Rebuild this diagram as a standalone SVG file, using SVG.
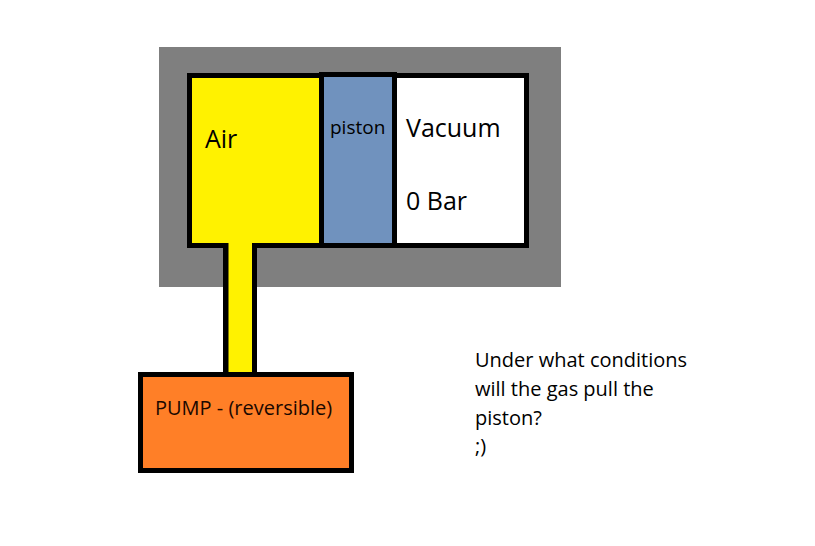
<svg xmlns="http://www.w3.org/2000/svg" width="815" height="546" viewBox="0 0 815 546">
<style>
.t{font-family:"Open Sans","Liberation Sans",sans-serif;fill:#000}
.ol{stroke:#000;stroke-width:5}
</style>
<rect width="815" height="546" fill="#fff"/>
<g id="housing">
<rect x="159" y="47" width="402" height="240" fill="#7f7f7f"/>
</g>
<g id="vacuum">
<rect x="189.5" y="75.5" width="337" height="170" fill="#fff" class="ol"/>
<text class="t" x="406" y="137" font-size="25">Vacuum</text>
<text class="t" x="406" y="210" font-size="25">0 Bar</text>
</g>
<g id="air">
<rect x="192" y="78" width="128" height="165" fill="#fff200"/>
<text class="t" x="205" y="148" font-size="25">Air</text>
</g>
<g id="piston">
<rect x="321.5" y="74.5" width="73" height="171" fill="#7092be" class="ol"/>
<text class="t" x="330" y="134" font-size="19">piston</text>
</g>
<g id="connectors">
<rect x="223" y="243" width="34" height="131" fill="#000"/>
<rect x="228.5" y="238" width="23.5" height="136" fill="#fff200"/>
</g>
<g id="pump">
<rect x="140.5" y="374.5" width="211" height="96" fill="#ff7f27" class="ol"/>
<text class="t" x="155" y="415" font-size="20" style="fill:#1a0800">PUMP - (reversible)</text>
</g>
<g id="question">
<text class="t" font-size="20"><tspan x="475" y="367">Under what conditions</tspan><tspan x="475" y="396">will the gas pull the</tspan><tspan x="475" y="425">piston?</tspan><tspan x="475" y="453">;)</tspan></text>
</g>
</svg>
